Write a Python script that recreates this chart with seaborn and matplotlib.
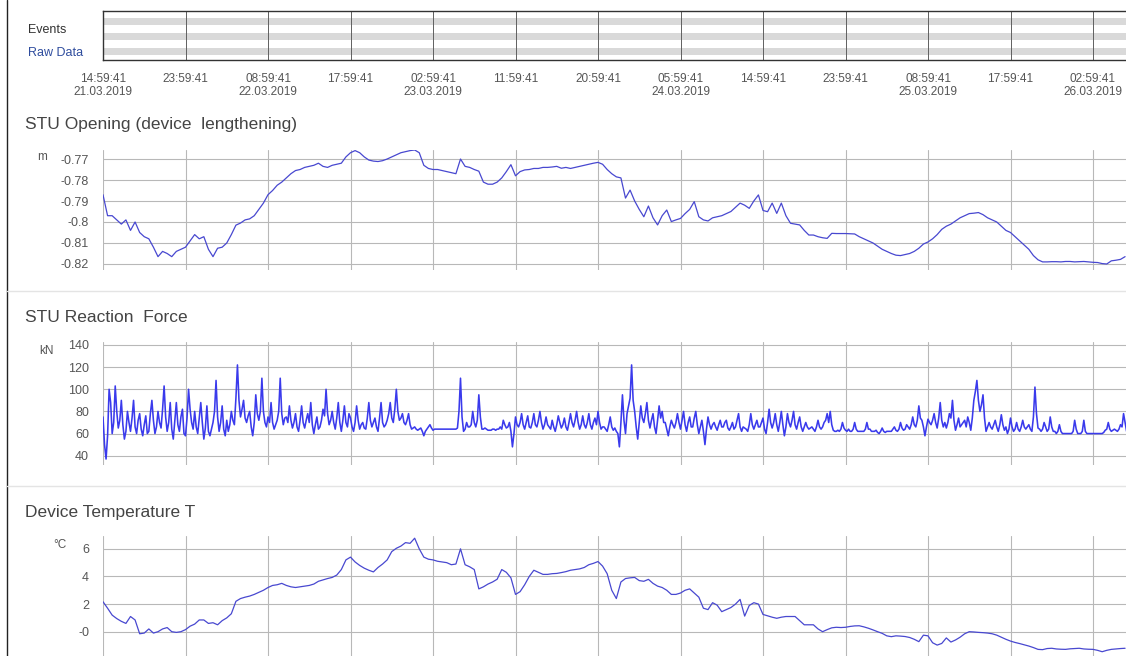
import numpy as np
import matplotlib
matplotlib.use("Agg")
import matplotlib.pyplot as plt
from matplotlib.lines import Line2D
import seaborn as sns

sns.set_style("white")
plt.rcParams["font.family"] = ["Liberation Sans", "DejaVu Sans"]

# ---------------------------------------------------------------- data
tick_times = ["14:59:41", "23:59:41", "08:59:41", "17:59:41", "02:59:41",
              "11:59:41", "20:59:41", "05:59:41", "14:59:41", "23:59:41",
              "08:59:41", "17:59:41", "02:59:41"]
tick_dates = ["21.03.2019", "", "22.03.2019", "", "23.03.2019", "", "",
              "24.03.2019", "", "", "25.03.2019", "", "26.03.2019"]
tick_step_h = 9            # hours between time ticks
visible_h = 111.6          # hours shown from 21.03.2019 14:59:41

opening_step_h = 0.5
opening_m = [
    -0.787, -0.797, -0.797, -0.799, -0.801, -0.799, -0.804, -0.800, -0.805, -0.807,
    -0.808, -0.812, -0.8165, -0.814, -0.815, -0.8165, -0.814, -0.813, -0.812, -0.809,
    -0.806, -0.808, -0.807, -0.813, -0.8165, -0.8125, -0.812, -0.810, -0.806, -0.8015,
    -0.8005, -0.799, -0.7985, -0.797, -0.794, -0.791, -0.787, -0.785, -0.7825, -0.781,
    -0.779, -0.777, -0.7755, -0.775, -0.774, -0.7735, -0.773, -0.772, -0.7735, -0.774,
    -0.773, -0.7725, -0.772, -0.769, -0.767, -0.766, -0.767, -0.769, -0.7705, -0.771,
    -0.7712, -0.7708, -0.770, -0.769, -0.768, -0.767, -0.7665, -0.766, -0.7657, -0.767,
    -0.773, -0.7745, -0.775, -0.775, -0.7755, -0.776, -0.7765, -0.777, -0.770, -0.7735,
    -0.774, -0.775, -0.7758, -0.781, -0.782, -0.782, -0.781, -0.779, -0.776, -0.7727,
    -0.778, -0.776, -0.7752, -0.775, -0.7745, -0.7745, -0.774, -0.774, -0.7738, -0.7735,
    -0.7744, -0.774, -0.7745, -0.774, -0.7735, -0.773, -0.7725, -0.772, -0.7716, -0.7725,
    -0.775, -0.777, -0.7785, -0.779, -0.7886, -0.7848, -0.790, -0.794, -0.7975, -0.7924,
    -0.798, -0.8014, -0.797, -0.7943, -0.7998, -0.799, -0.7983, -0.796, -0.794, -0.7903,
    -0.7975, -0.799, -0.7995, -0.798, -0.7975, -0.797, -0.796, -0.795, -0.793, -0.791,
    -0.792, -0.7935, -0.790, -0.7871, -0.7945, -0.7951, -0.791, -0.7959, -0.791, -0.797,
    -0.8006, -0.801, -0.8014, -0.804, -0.8062, -0.8062, -0.807, -0.8075, -0.8078, -0.8054,
    -0.8055, -0.8055, -0.8055, -0.8056, -0.8057, -0.807, -0.808, -0.809, -0.810, -0.8115,
    -0.813, -0.814, -0.815, -0.8158, -0.816, -0.8155, -0.815, -0.814, -0.8125, -0.8105,
    -0.8095, -0.808, -0.806, -0.8035, -0.802, -0.801, -0.7995, -0.798, -0.797, -0.796,
    -0.7958, -0.7955, -0.7965, -0.798, -0.799, -0.800, -0.802, -0.804, -0.805, -0.807,
    -0.809, -0.811, -0.813, -0.816, -0.818, -0.819, -0.819, -0.8189, -0.8189, -0.819,
    -0.8188, -0.8188, -0.819, -0.8189, -0.8188, -0.819, -0.8192, -0.8193, -0.8198, -0.820,
    -0.8185, -0.8182, -0.8178, -0.8165,
]

force_step_h = 1 / 6
force_kn = [
    75, 50, 37, 58, 100, 88, 60, 70, 103, 80, 65, 72, 90, 68, 55, 62, 80, 70, 62, 74,
    90, 66, 60, 72, 78, 64, 58, 68, 76, 60, 62, 78, 90, 72, 60, 66, 80, 70, 65, 82,
    103, 75, 62, 70, 88, 64, 55, 72, 88, 68, 62, 75, 82, 60, 58, 74, 100, 82, 70, 64,
    80, 66, 60, 74, 88, 70, 55, 65, 85, 62, 58, 64, 70, 80, 108, 75, 62, 70, 85, 64,
    58, 72, 62, 68, 80, 72, 68, 92, 122, 90, 75, 82, 90, 74, 70, 76, 80, 66, 58, 70,
    95, 78, 72, 80, 110, 80, 70, 66, 75, 70, 88, 70, 64, 68, 72, 80, 110, 78, 68, 74,
    75, 70, 85, 72, 65, 70, 78, 66, 62, 72, 85, 70, 65, 72, 78, 70, 88, 68, 60, 68,
    75, 64, 66, 72, 82, 76, 100, 78, 68, 72, 80, 70, 64, 74, 88, 70, 62, 72, 85, 70,
    66, 78, 74, 66, 62, 70, 85, 72, 64, 68, 70, 65, 64, 74, 88, 72, 66, 70, 74, 66,
    62, 74, 88, 70, 66, 68, 72, 78, 88, 74, 70, 82, 100, 80, 72, 74, 78, 70, 68, 72,
    78, 68, 64, 65, 66, 64, 63, 64, 65, 62, 58, 62, 64, 66, 68, 65, 63, 64, 64, 64,
    64, 64, 64, 64, 64, 64, 64, 64, 64, 64, 64, 64, 65, 80, 110, 75, 62, 64, 70, 66,
    66, 68, 80, 70, 66, 72, 95, 75, 64, 64, 65, 64, 63, 63, 63, 64, 64, 63, 64, 64,
    66, 64, 72, 68, 65, 66, 70, 62, 48, 60, 75, 68, 66, 70, 78, 68, 64, 70, 76, 66,
    65, 70, 78, 68, 66, 72, 80, 70, 64, 68, 75, 68, 66, 64, 72, 66, 62, 68, 76, 70,
    65, 68, 74, 66, 63, 70, 78, 70, 66, 72, 80, 70, 64, 68, 76, 68, 65, 70, 78, 68,
    64, 70, 74, 68, 80, 70, 64, 66, 66, 64, 62, 68, 75, 66, 63, 65, 62, 60, 48, 70,
    95, 72, 60, 78, 85, 92, 122, 90, 80, 66, 55, 70, 85, 74, 70, 78, 88, 72, 65, 72,
    78, 66, 60, 72, 85, 74, 80, 70, 70, 64, 58, 66, 72, 68, 65, 70, 78, 70, 64, 72,
    80, 68, 62, 70, 75, 66, 66, 74, 80, 68, 60, 66, 72, 62, 50, 64, 75, 68, 64, 68,
    70, 66, 63, 68, 72, 66, 66, 70, 72, 65, 63, 66, 70, 64, 66, 72, 78, 66, 62, 66,
    65, 64, 62, 68, 78, 68, 64, 68, 72, 66, 66, 70, 74, 64, 60, 70, 82, 70, 65, 70,
    78, 68, 62, 70, 80, 68, 58, 66, 78, 70, 66, 72, 80, 68, 64, 70, 75, 66, 62, 66,
    70, 66, 64, 65, 66, 64, 62, 66, 72, 66, 64, 66, 70, 72, 78, 70, 80, 68, 63, 62,
    62, 63, 62, 64, 70, 65, 63, 62, 64, 62, 62, 64, 70, 64, 62, 62, 62, 62, 62, 64,
    70, 64, 64, 62, 62, 62, 63, 61, 60, 62, 65, 62, 61, 62, 62, 62, 62, 64, 66, 63,
    62, 64, 70, 65, 63, 64, 68, 66, 64, 68, 75, 68, 66, 72, 85, 74, 72, 66, 58, 66,
    73, 70, 68, 72, 78, 70, 65, 74, 88, 72, 66, 70, 65, 70, 78, 74, 90, 72, 63, 68,
    74, 66, 68, 70, 72, 66, 75, 70, 63, 74, 90, 98, 108, 90, 80, 86, 95, 74, 62, 66,
    70, 66, 64, 68, 72, 66, 62, 68, 77, 68, 63, 66, 60, 64, 74, 66, 62, 64, 70, 64,
    62, 66, 72, 66, 64, 66, 68, 64, 62, 75, 102, 78, 65, 64, 62, 64, 70, 66, 62, 64,
    75, 66, 62, 62, 60, 62, 68, 62, 60, 60, 60, 60, 60, 60, 60, 62, 72, 64, 60, 60,
    60, 62, 72, 62, 60, 60, 60, 60, 60, 60, 60, 60, 60, 60, 60, 61, 63, 64, 70, 64,
    62, 63, 64, 63, 62, 64, 68, 66, 78, 70, 62,
]

temperature_step_h = 0.5
temperature_c = [
    2.17, 1.7, 1.2, 0.95, 0.75, 0.6, 1.1, 0.85, -0.15, -0.1,
    0.2, -0.1, 0.0, 0.2, 0.3, 0.0, -0.05, 0.0, 0.15, 0.4,
    0.55, 0.85, 0.85, 0.6, 0.65, 0.5, 0.8, 1.0, 1.3, 2.2,
    2.4, 2.5, 2.58, 2.7, 2.85, 3.0, 3.2, 3.35, 3.4, 3.5,
    3.35, 3.25, 3.2, 3.25, 3.3, 3.35, 3.45, 3.65, 3.75, 3.85,
    3.93, 4.1, 4.5, 5.2, 5.4, 5.05, 4.8, 4.6, 4.45, 4.33,
    4.65, 4.9, 5.2, 5.8, 6.04, 6.2, 6.45, 6.4, 6.77, 6.0,
    5.4, 5.25, 5.2, 5.1, 5.05, 5.0, 4.85, 4.9, 6.0, 4.85,
    4.7, 4.5, 3.1, 3.25, 3.45, 3.6, 3.8, 4.5, 4.3, 3.9,
    2.7, 2.9, 3.4, 4.0, 4.45, 4.3, 4.15, 4.15, 4.2, 4.22,
    4.28, 4.35, 4.45, 4.5, 4.55, 4.65, 4.85, 4.95, 5.08, 4.75,
    4.2, 3.0, 2.4, 3.6, 3.85, 3.9, 3.93, 3.7, 3.65, 3.79,
    3.5, 3.3, 3.2, 3.0, 2.7, 2.7, 2.8, 3.0, 3.1, 2.8,
    2.5, 1.7, 1.6, 2.1, 1.92, 1.45, 1.6, 1.75, 2.0, 2.34,
    1.13, 1.9, 2.1, 2.0, 1.25, 1.15, 1.05, 0.97, 1.05, 1.1,
    1.1, 1.1, 0.8, 0.5, 0.5, 0.5, 0.2, 0.0, 0.15, 0.28,
    0.32, 0.3, 0.32, 0.38, 0.42, 0.43, 0.35, 0.25, 0.13, 0.0,
    -0.12, -0.3, -0.36, -0.3, -0.32, -0.35, -0.42, -0.55, -0.72, -0.25,
    -0.3, -0.8, -0.97, -0.85, -0.45, -0.75, -0.6, -0.4, -0.15, 0.0,
    -0.02, -0.05, -0.07, -0.1, -0.15, -0.25, -0.4, -0.55, -0.68, -0.78,
    -0.86, -0.95, -1.04, -1.15, -1.28, -1.3, -1.22, -1.2, -1.25, -1.27,
    -1.28, -1.24, -1.22, -1.2, -1.25, -1.27, -1.28, -1.35, -1.45, -1.35,
    -1.28, -1.25, -1.22, -1.2,
]

# ---------------------------------------------------------------- figure
W, H = 1126, 656
fig = plt.figure(figsize=(W / 100, H / 100), dpi=100)
fig.patch.set_facecolor("white")

GRID = "#b8b8b8"
TEXT = "#555555"
TITLE = "#444444"
LINE = "#4848d0"


def px_axes(left, top, right, bottom):
    return fig.add_axes([left / W, 1 - bottom / H, (right - left) / W, (bottom - top) / H])


def hline(y, color, lw=1.0, x0=0.0, x1=1.0):
    fig.add_artist(Line2D([x0, x1], [1 - y / H, 1 - y / H], color=color, lw=lw))


tick_hours = np.arange(len(tick_times)) * tick_step_h

# dashboard frame on the left
fig.add_artist(Line2D([7 / W, 7 / W], [0, 1], color="#222222", lw=1.0))

# ---------------------------------------------------------------- timeline strip
tl = px_axes(103, 11, W, 60)
tl.set_xlim(0, visible_h)
tl.set_ylim(49, 0)
for y0, y1 in [(7.3, 14.0), (22.3, 29.0), (37.3, 44.0)]:
    tl.axhspan(y0, y1, color="#d9d9d9", lw=0)
tl.vlines(tick_hours, 0, 49, color="#606060", lw=0.7)
tl.set_xticks(tick_hours)
tl.set_xticklabels([t if not d else f"{t}\n{d}" for t, d in zip(tick_times, tick_dates)],
                   linespacing=1.2, va="top")
tl.tick_params(axis="x", length=6, width=0.8, color="#444444", labelsize=8.5,
               labelcolor=TEXT, pad=3)
tl.set_yticks([])
for side in ["top", "bottom", "left"]:
    tl.spines[side].set_visible(True)
    tl.spines[side].set_color("#333333")
    tl.spines[side].set_linewidth(1.0)
tl.spines["right"].set_visible(False)

fig.text(28 / W, 1 - 30 / H, "Events", fontsize=9, color="#333333", va="center")
fig.text(28 / W, 1 - 53 / H, "Raw Data", fontsize=9, color="#2f4d9e", va="center")

# ---------------------------------------------------------------- panels
def panel(box, step_h, values, ylim, yticks, ylabels, title, title_y, unit, unit_xy,
          color=LINE, lw=0.9):
    ax = px_axes(*box)
    hours = np.arange(len(values)) * step_h
    sns.lineplot(x=hours, y=values, ax=ax, color=color, linewidth=lw, estimator=None)
    ax.set_xlim(0, visible_h)
    ax.set_ylim(*ylim)
    ax.set_xticks(tick_hours)
    ax.set_yticks(yticks)
    ax.set_yticklabels(ylabels)
    ax.grid(True, color=GRID, lw=0.8)
    ax.set_axisbelow(True)
    ax.tick_params(axis="x", length=0, labelbottom=False)
    ax.tick_params(axis="y", length=9, width=0.8, color=GRID, labelsize=9,
                   labelcolor=TEXT, pad=1)
    for s in ax.spines.values():
        s.set_visible(False)
    ax.set_xlabel("")
    ax.set_ylabel("")
    fig.text(25 / W, 1 - title_y / H, title, fontsize=12.5, color=TITLE, va="center")
    fig.text(unit_xy[0] / W, 1 - unit_xy[1] / H, unit, fontsize=8.5, color=TEXT, va="center")
    return ax


panel((103, 150, W, 270), opening_step_h, opening_m,
      (-0.82286, -0.76571),
      [-0.77, -0.78, -0.79, -0.80, -0.81, -0.82],
      ["-0.77", "-0.78", "-0.79", "-0.8", "-0.81", "-0.82"],
      "STU Opening (device  lengthening)", 125, "m", (37, 157))

hline(291, "#e4e4e4", x0=7 / W)

panel((103, 342, W, 465), force_step_h, force_kn,
      (31.6, 142.7),
      [140, 120, 100, 80, 60, 40],
      ["140", "120", "100", "80", "60", "40"],
      "STU Reaction  Force", 318, "kN", (39, 351), color="#3a3aec", lw=1.15)

hline(486, "#e4e4e4", x0=7 / W)

panel((103, 536, W, 656), temperature_step_h, temperature_c,
      (-1.76, 6.93),
      [6, 4, 2, 0],
      ["6", "4", "2", "-0"],
      "Device Temperature T", 512, "°C", (53, 545))

fig.savefig("out.png", dpi=100, facecolor="white")
